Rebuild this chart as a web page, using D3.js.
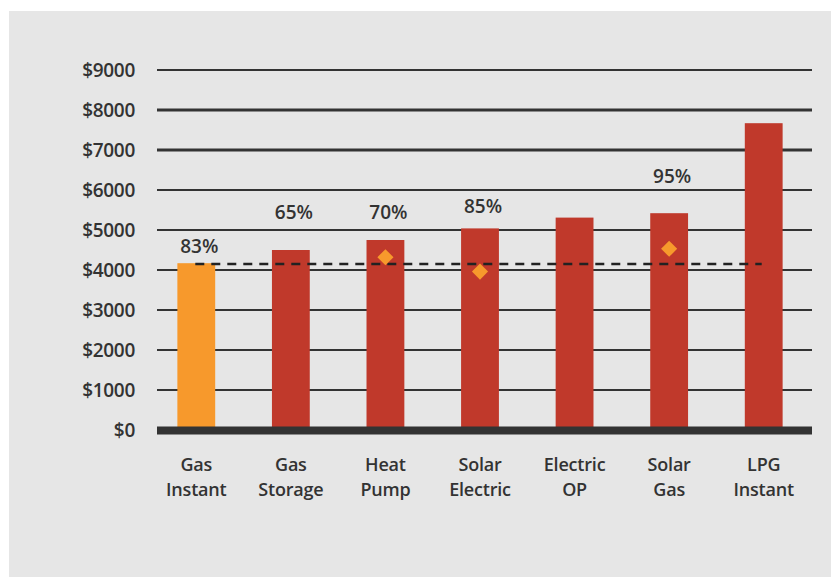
<!DOCTYPE html>
<html lang="en">
<head>
<meta charset="utf-8">
<title>Hot water system costs</title>
<script src="https://cdn.jsdelivr.net/npm/d3@7"></script>
<style>
  body { margin: 0; background: #fff; }
  svg text { font-family: "Open Sans", sans-serif; font-weight: 600; fill: #333; }
</style>
</head>
<body>
<div class="chart"></div>

<script>

// data
var systems = [["Gas", "Instant"], ["Gas", "Storage"], ["Heat", "Pump"], ["Solar", "Electric"],
               ["Electric", "OP"], ["Solar", "Gas"], ["LPG", "Instant"]];
var costs = [4170, 4500, 4750, 5040, 5310, 5420, 7670];
var diamonds = [null, null, 4320, 3960, null, 4530, null];
var efficiency = ["83%", "65%", "70%", "85%", null, "95%", null];
var effLevel = [4600, 5430, 5430, 5580, null, 6350, null];   // where the % text sits
var reference = 4150;   // dashed line, Gas Instant cost
var ticks = [0, 1000, 2000, 3000, 4000, 5000, 6000, 7000, 8000, 9000];

var width = 831,
    height = 577;

var svg = d3.select(".chart").append("svg")
    .attr("width", width)
    .attr("height", height);

// grey panel
svg.append("rect")
    .attr("x", 9).attr("y", 11)
    .attr("width", width - 9).attr("height", height - 11)
    .attr("fill", "#e6e6e6");

var x = d3.scaleBand()
    .domain(d3.range(systems.length))
    .range([149, 811])
    .paddingInner(0.6)
    .paddingOuter(0.3);

var y = d3.scaleLinear()
    .domain([0, 9000])
    .range([430, 70]);

// gridlines
svg.selectAll(".grid")
    .data(ticks.filter(function(t) { return t > 0; }))
    .enter().append("line")
    .attr("x1", 157).attr("x2", 812)
    .attr("y1", function(d) { return y(d); })
    .attr("y2", function(d) { return y(d); })
    .attr("stroke", "#333")
    .attr("stroke-width", function(d) { return (d == 7000 || d == 8000) ? 3 : 2.2; });

// y labels
svg.selectAll(".ylab")
    .data(ticks)
    .enter().append("text")
    .attr("x", 135)
    .attr("y", function(d) { return y(d); })
    .attr("dy", "0.35em")
    .attr("text-anchor", "end")
    .style("font-size", "19px")
    .style("letter-spacing", "-0.3px")
    .text(function(d) { return "$" + d; });

// bars
svg.selectAll(".bar")
    .data(costs)
    .enter().append("rect")
    .attr("x", function(d, i) { return x(i); })
    .attr("y", function(d) { return y(d); })
    .attr("width", x.bandwidth())
    .attr("height", function(d) { return y(0) - y(d); })
    .attr("fill", function(d, i) { return i == 0 ? "#f7992c" : "#c0392b"; });

// baseline
svg.append("line")
    .attr("x1", 157).attr("x2", 812)
    .attr("y1", y(0) + 0.5).attr("y2", y(0) + 0.5)
    .attr("stroke", "#333")
    .attr("stroke-width", 8);

// dashed reference line
svg.append("line")
    .attr("x1", x(0) + x.bandwidth() / 2 - 1)
    .attr("x2", x(6) + x.bandwidth() / 2 - 2)
    .attr("y1", y(reference)).attr("y2", y(reference))
    .attr("stroke", "#222")
    .attr("stroke-width", 2.5)
    .attr("stroke-dasharray", "9,7");

// diamonds
var diamond = d3.symbol().type(d3.symbolSquare).size(130);
svg.selectAll(".dia")
    .data(diamonds.map(function(v, i) { return {v: v, i: i}; }).filter(function(d) { return d.v != null; }))
    .enter().append("path")
    .attr("d", diamond)
    .attr("transform", function(d) {
      return "translate(" + (x(d.i) + x.bandwidth() / 2) + "," + y(d.v) + ") rotate(45)";
    })
    .attr("fill", "#f7992c");

// efficiency labels
svg.selectAll(".eff")
    .data(efficiency.map(function(v, i) { return {v: v, i: i}; }).filter(function(d) { return d.v != null; }))
    .enter().append("text")
    .attr("x", function(d) { return x(d.i) + x.bandwidth() / 2 + 3; })
    .attr("y", function(d) { return y(effLevel[d.i]); })
    .attr("dy", "0.35em")
    .attr("text-anchor", "middle")
    .style("font-size", "19px")
    .text(function(d) { return d.v; });

// category labels, two lines each
[0, 1].forEach(function(line) {
  svg.selectAll(".cat" + line)
      .data(systems)
      .enter().append("text")
      .attr("x", function(d, i) { return x(i) + x.bandwidth() / 2; })
      .attr("y", 465 + line * 24.8)
      .attr("dy", "0.35em")
      .attr("text-anchor", "middle")
      .style("font-size", "18px")
      .style("letter-spacing", "-0.2px")
      .text(function(d) { return d[line]; });
});

</script>
</body>
</html>
